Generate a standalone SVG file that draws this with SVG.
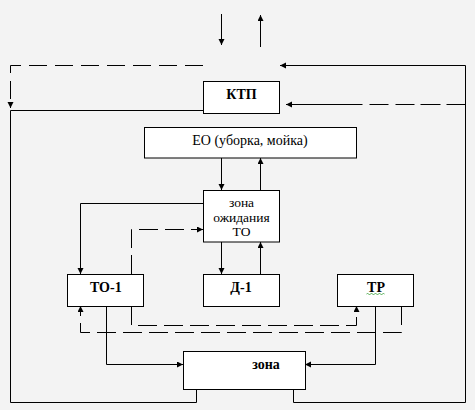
<svg xmlns="http://www.w3.org/2000/svg" width="475" height="410" viewBox="0 0 475 410">
<defs>
<marker id="ah" markerUnits="userSpaceOnUse" markerWidth="7" markerHeight="7" refX="6" refY="3" orient="auto">
<path d="M0,0 L6,3 L0,6 z" fill="#000"/>
</marker>
<style>
.box{fill:#fff;stroke:#000;stroke-width:1}
.ln{fill:none;stroke:#000;stroke-width:1}
.ar{marker-end:url(#ah)}
.d{stroke-dasharray:19,7}
.t{font-family:"Liberation Serif","Times New Roman",serif;fill:#000;text-anchor:middle}
.b{font-weight:bold;font-size:14px}
.z{font-size:13.5px}
</style>
</defs>
<rect width="475" height="410" fill="#f3f3f3"/>
<g id="connectors">
<line class="ln ar" x1="221.5" y1="14" x2="221.5" y2="45"/>
<line class="ln ar" x1="260.5" y1="47" x2="260.5" y2="15"/>
<path class="ln ar" d="M203,65.5 H10.5 V108" style="stroke-dasharray:18,8"/>
<path class="ln" d="M196.5,389 V402.5 H10.5 V110.5 H203"/>
<path class="ln ar" d="M293.5,389 V402.5 H465.5 V65.5 H280"/>
<path class="ln ar" d="M465.5,104.5 H286" style="stroke-dasharray:19,6,20,6,19,7,19,7,90"/>
<line class="ln ar" x1="221.5" y1="158" x2="221.5" y2="190"/>
<line class="ln ar" x1="260.5" y1="190" x2="260.5" y2="158"/>
<line class="ln ar" x1="221.5" y1="242" x2="221.5" y2="274"/>
<line class="ln ar" x1="260.5" y1="274" x2="260.5" y2="242"/>
<path class="ln ar" d="M203,203.5 H80.5 V274"/>
<path class="ln ar d" d="M131.5,274 V229.5 H203"/>
<path class="ln ar" d="M106.5,306 V364.5 H183"/>
<path class="ln ar" d="M375.5,306 V364.5 H305"/>
<path class="ln ar d" d="M131.5,306 V325.5 H356.5 V306"/>
<path class="ln ar d" d="M401.5,306 V332.5 H80.5 V306"/>
</g>
<g id="ktp">
<rect class="box" x="203.5" y="81.5" width="76" height="32"/>
<text class="t b" x="241.5" y="98.5">КТП</text>
</g>
<g id="eo">
<rect class="box" x="144.5" y="127.5" width="212" height="30.5"/>
<text class="t" x="250" y="145" font-size="14">ЕО (уборка, мойка)</text>
</g>
<g id="zone-wait">
<rect class="box" x="203.5" y="190.5" width="76" height="51.5"/>
<text class="t z" x="241.5" y="206.5">зона</text>
<text class="t z" x="241.5" y="221.5">ожидания</text>
<text class="t z" x="241.5" y="236">ТО</text>
</g>
<g id="to1">
<rect class="box" x="67.5" y="274.5" width="76" height="32"/>
<text class="t b" x="105.8" y="292">ТО-1</text>
</g>
<g id="d1">
<rect class="box" x="203.5" y="274.5" width="76" height="32"/>
<text class="t b" x="241" y="292">Д-1</text>
</g>
<g id="tr">
<rect class="box" x="337.5" y="274.5" width="76" height="32"/>
<text class="t b" x="376" y="292">ТР</text>
<path d="M366.5,294 q1,-1 2,0 t2,0 t2,0 t2,0 t2,0 t2,0 t2,0 t2,0 t2,0" fill="none" stroke="#2a9a2a" stroke-width="0.8"/>
</g>
<g id="zona">
<rect class="box" x="183.5" y="351.5" width="122" height="38"/>
<text class="t b" x="266" y="368.5">зона</text>
</g>
</svg>
